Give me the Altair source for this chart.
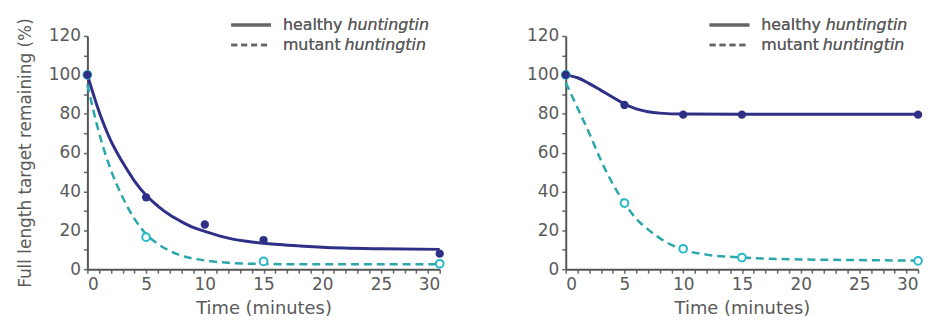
import altair as alt
import pandas as pd

FONT = "DejaVu Sans"
TEXT = "#5a5a5a"
NAVY = "#2e3088"
TEAL = "#2aa7ab"
CYAN = "#25b8c9"

# ---- Left panel ----
L_h_curve_x = [0, 1, 2, 3, 4, 5, 6, 7, 8, 9, 10, 12, 14, 16, 18, 20, 25, 30]
L_h_curve_y = [100, 81, 66, 55, 45.5, 38, 32.5, 28, 24.5, 21.5, 19.5, 16, 14, 12.8, 12, 11.3, 10.5, 10.2]
L_m_curve_x = [0, 1, 2, 3, 4, 5, 6, 7, 8, 9, 10, 12, 15, 20, 25, 30]
L_m_curve_y = [95, 70, 51, 37, 26, 18, 13, 9.5, 7, 5.5, 4.5, 3.3, 2.7, 2.5, 2.5, 2.5]
L_h_pts_x = [0, 5, 10, 15, 30]
L_h_pts_y = [100, 37, 23, 15, 8]
L_m_pts_x = [0, 5, 15, 30]
L_m_pts_y = [100, 16.5, 4, 2.8]

# ---- Right panel ----
R_h_curve_x = [0, 1, 2, 3, 4, 5, 6, 7, 8, 10, 15, 20, 30]
R_h_curve_y = [100, 98.5, 95.5, 92, 88.5, 85, 82.5, 81, 80.3, 79.8, 79.7, 79.7, 79.7]
R_m_curve_x = [0, 1, 2, 3, 4, 5, 6, 7, 8, 9, 10, 12, 15, 20, 25, 30]
R_m_curve_y = [96, 83, 70, 56, 44, 34, 26, 20.5, 16, 12.5, 10, 7.5, 6, 5, 4.7, 4.4]
R_h_pts_x = [0, 5, 10, 15, 30]
R_h_pts_y = [100, 84.5, 79.5, 79.5, 79.5]
R_m_pts_x = [0, 5, 10, 15, 30]
R_m_pts_y = [100, 34, 10.5, 6, 4.3]

legend_words = ["healthy", "mutant"]
legend_italic = "huntingtin"

W, H = 355, 235


def panel(hcx, hcy, mcx, mcy, hpx, hpy, mpx, mpy, ytitle):
    xs = alt.Scale(domain=[0, 30], nice=False)
    ys = alt.Scale(domain=[0, 120], nice=False)
    xaxis = alt.Axis(
        values=list(range(0, 31)),
        labelExpr="datum.value % 5 === 0 ? datum.label : ''",
        labelOverlap=False,
        title="Time (minutes)",
    )
    yaxis = alt.Axis(
        values=list(range(0, 121, 10)),
        labelExpr="datum.value % 20 === 0 ? datum.label : ''",
        labelOverlap=False,
        title=ytitle,
    )
    X = alt.X("x:Q", scale=xs, axis=xaxis)
    Y = alt.Y("y:Q", scale=ys, axis=yaxis)
    hc = pd.DataFrame({"x": hcx, "y": hcy})
    mc = pd.DataFrame({"x": mcx, "y": mcy})
    hp = pd.DataFrame({"x": hpx, "y": hpy})
    mp = pd.DataFrame({"x": mpx, "y": mpy})

    m_line = alt.Chart(mc).mark_line(
        color=TEAL, strokeWidth=2.5, strokeDash=[8, 5], interpolate="monotone", clip=False
    ).encode(x=X, y=Y)
    h_line = alt.Chart(hc).mark_line(
        color=NAVY, strokeWidth=3, interpolate="monotone", clip=False
    ).encode(x=X, y=Y)
    m_pts = alt.Chart(mp).mark_point(
        shape="circle", filled=False, fill="white", fillOpacity=1, stroke=CYAN,
        strokeWidth=2, size=60, clip=False
    ).encode(x=X, y=Y)
    h_pts = alt.Chart(hp).mark_point(
        shape="circle", filled=True, color=NAVY, opacity=1, size=70, clip=False
    ).encode(x=X, y=Y)

    ld = pd.DataFrame({"w": legend_words})
    leg_h = alt.Chart(ld).mark_rule(color="#666", strokeWidth=3).encode(
        x=alt.value(145), x2=alt.value(185), y=alt.value(-11))
    leg_m = alt.Chart(ld).mark_rule(color="#666", strokeWidth=2.5, strokeDash=[6, 4]).encode(
        x=alt.value(145), x2=alt.value(185), y=alt.value(9))
    t1 = alt.Chart(ld).mark_text(text=legend_words[0], align="left", baseline="middle",
                                 font=FONT, fontSize=16, color=TEXT).encode(
        x=alt.value(197), y=alt.value(-11))
    t2 = alt.Chart(ld).mark_text(text=legend_italic, align="left", baseline="middle",
                                 font=FONT, fontSize=16, fontStyle="italic", color=TEXT).encode(
        x=alt.value(262), y=alt.value(-11))
    t3 = alt.Chart(ld).mark_text(text=legend_words[1], align="left", baseline="middle",
                                 font=FONT, fontSize=16, color=TEXT).encode(
        x=alt.value(197), y=alt.value(9))
    t4 = alt.Chart(ld).mark_text(text=legend_italic, align="left", baseline="middle",
                                 font=FONT, fontSize=16, fontStyle="italic", color=TEXT).encode(
        x=alt.value(259), y=alt.value(9))

    return alt.layer(m_line, h_line, m_pts, h_pts, leg_h, leg_m, t1, t2, t3, t4).properties(
        width=W, height=H)


left = panel(L_h_curve_x, L_h_curve_y, L_m_curve_x, L_m_curve_y,
             L_h_pts_x, L_h_pts_y, L_m_pts_x, L_m_pts_y,
             "Full length target remaining (%)")
right = panel(R_h_curve_x, R_h_curve_y, R_m_curve_x, R_m_curve_y,
              R_h_pts_x, R_h_pts_y, R_m_pts_x, R_m_pts_y, None)

chart = alt.hconcat(left, right, spacing=79).properties(
    padding={"left": 8, "top": 8, "right": 0, "bottom": 0}
).configure_view(stroke=None).configure_axis(
    grid=False,
    labelOverlap=False,
    domainColor="#555",
    domainWidth=2,
    tickColor="#666",
    tickWidth=1.5,
    tickSize=4,
    labelFont=FONT,
    labelFontSize=17,
    labelColor=TEXT,
    labelPadding=3,
    titleFont=FONT,
    titleFontSize=17,
    titleFontWeight="normal",
    titleColor=TEXT,
).configure_axisX(titlePadding=8, titleFontSize=18).configure_axisY(titlePadding=14)

chart.save("out.html", embed_options={"renderer": "svg", "actions": False})
